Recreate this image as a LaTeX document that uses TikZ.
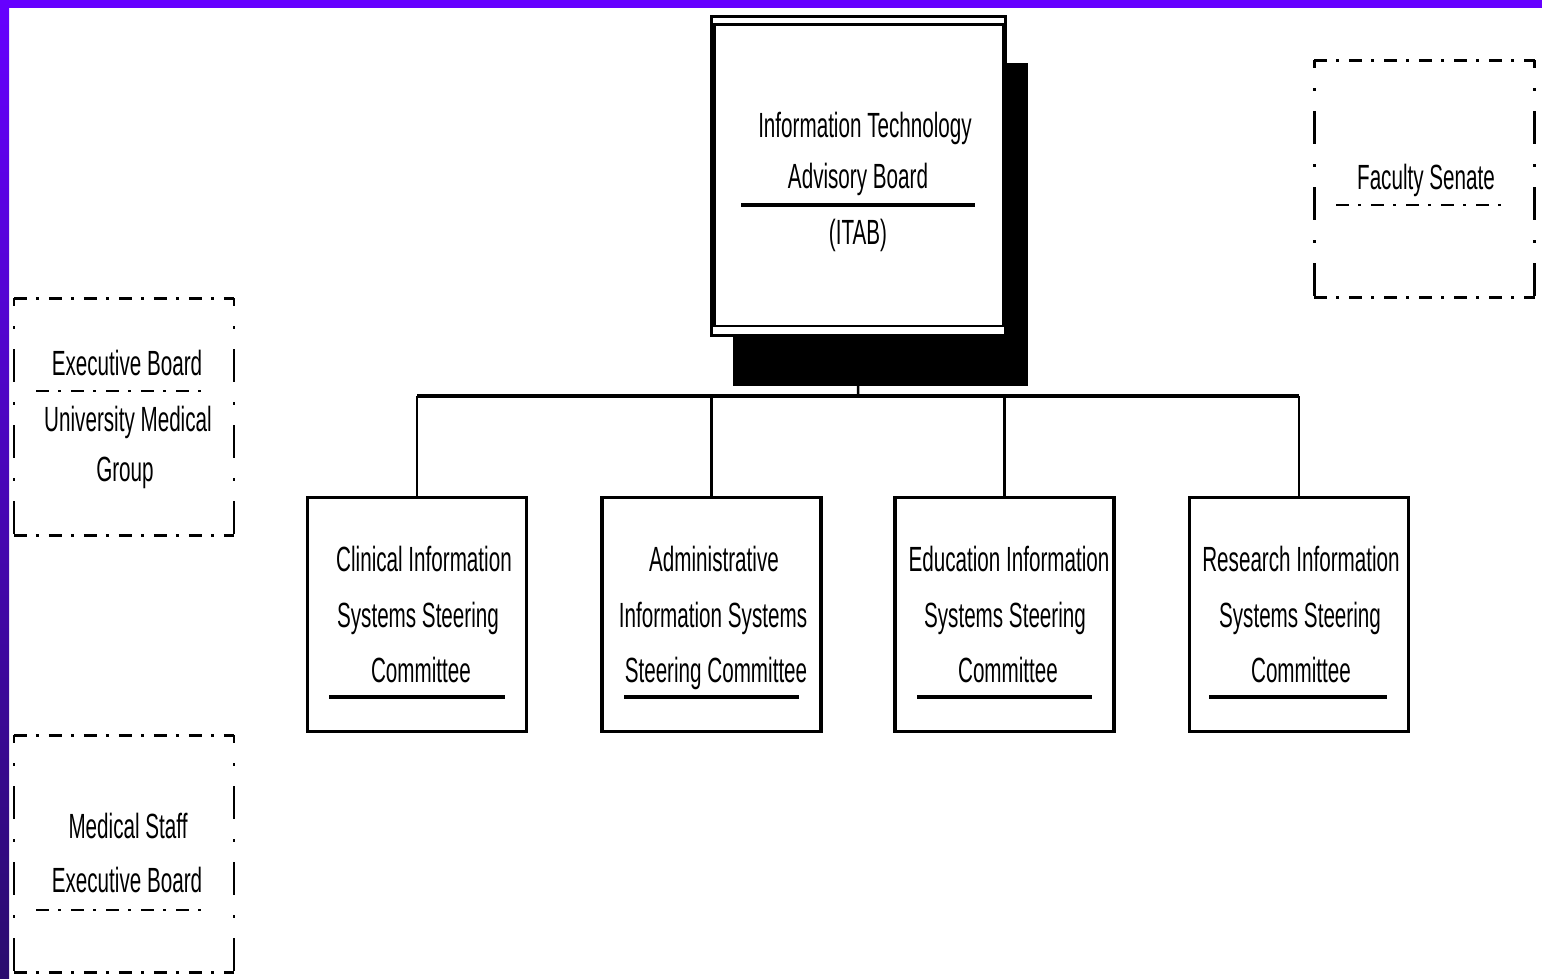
\documentclass[tikz,border=0pt]{standalone}
\usepackage{fontspec}
\newfontfamily\narrowfont[FakeStretch=0.59]{Liberation Sans}
\definecolor{barpurple}{HTML}{6600FF}
\definecolor{bardark}{HTML}{2A0C6E}
\begin{document}
\begin{tikzpicture}[x=1pt,y=-1pt,
  txt/.style={font=\narrowfont\fontsize{35}{42}\selectfont, text height=25pt, text depth=0pt, inner sep=0pt},
  cbox/.style={draw, line width=3.5pt, fill=white, minimum width=219pt, minimum height=234pt, inner sep=0pt},
  dbox/.style={minimum width=220pt, minimum height=237pt, inner sep=0pt},
  hdd/.style={line width=2.5pt, dash pattern=on 13pt off 9pt on 3pt off 10pt},
  vdd/.style={line width=2.5pt, dash pattern=on 33pt off 20pt on 3pt off 20pt, dash phase=25pt},
  rule/.style={line width=3.5pt},
  vline/.style={line width=2.5pt},
  hbar/.style={line width=3.5pt}]
\useasboundingbox (0,0) rectangle (1542,978);
\fill[white] (0,0) rectangle (1542,978);
\fill[barpurple] (0,0) rectangle (1542,8);
\shade[top color=barpurple, bottom color=bardark] (0,0) rectangle (9,978);

% ITAB shadow and box
\fill[black] (733,63) rectangle (1028,386);
\node[draw, line width=3pt, fill=white, minimum width=293.5pt, minimum height=319pt, inner sep=0pt] (itab) at (858.25,176) {};
\draw[line width=2.5pt] ([shift={(4.5,9.5)}]itab.north west) rectangle ([shift={(-3.5,-11)}]itab.south east);
\node[txt] (itab1) at (865,125) {Information Technology};
\node[txt] (itab2) at (858,176) {Advisory Board};
\draw[rule] (741,205) -- (975,205);
\node[txt] (itab3) at (858,232) {(ITAB)};

% child boxes
\node[cbox] (c1) at (417,614.5) {};
\node[cbox] (c2) at (711.5,614.5) {};
\node[cbox] (c3) at (1004.5,614.5) {};
\node[cbox] (c4) at (1299,614.5) {};

\node[txt] (c1a) at (424,559) {Clinical Information};
\node[txt] (c1b) at (418,615) {Systems Steering};
\node[txt] (c1c) at (421,670) {Committee};
\draw[rule] (329,697) -- (505,697);

\node[txt] (c2a) at (714,559) {Administrative};
\node[txt] (c2b) at (713,615) {Information Systems};
\node[txt] (c2c) at (716,670) {Steering Committee};
\draw[rule] (624,697) -- (799,697);

\node[txt] (c3a) at (1009,559) {Education Information};
\node[txt] (c3b) at (1005,615) {Systems Steering};
\node[txt] (c3c) at (1008,670) {Committee};
\draw[rule] (917,697) -- (1092,697);

\node[txt] (c4a) at (1301,559) {Research Information};
\node[txt] (c4b) at (1300,615) {Systems Steering};
\node[txt] (c4c) at (1301,670) {Committee};
\draw[rule] (1209,697) -- (1387,697);

% connectors
\coordinate (bus) at (858,396);
\draw[vline] (itab.south) -- (bus);
\draw[hbar] (c1.north |- bus) -- (c4.north |- bus);
\draw[vline] (c1.north |- bus) -- (c1.north);
\draw[vline] (c2.north |- bus) -- (c2.north);
\draw[vline] (c3.north |- bus) -- (c3.north);
\draw[vline] (c4.north |- bus) -- (c4.north);

% Faculty Senate
\node[dbox] (fs) at (1424.5,179) {};
\draw[hdd] (fs.north west) -- (fs.north east);
\draw[hdd] (fs.south west) -- (fs.south east);
\draw[vdd] (fs.north west) -- (fs.south west);
\draw[vdd] (fs.north east) -- (fs.south east);
\node[txt] (fst) at (1426,177) {Faculty Senate};
\draw[hdd] (1336,205) -- (1505,205);

% Executive Board University Medical Group
\node[dbox] (eb) at (124,417) {};
\draw[hdd] (eb.north west) -- (eb.north east);
\draw[hdd] (eb.south west) -- (eb.south east);
\draw[vdd] (eb.north west) -- (eb.south west);
\draw[vdd] (eb.north east) -- (eb.south east);
\node[txt] (eb1) at (127,363) {Executive Board};
\draw[hdd] (36,391) -- (205,391);
\node[txt] (eb2) at (128,419) {University Medical};
\node[txt] (eb3) at (125,469) {Group};

% Medical Staff Executive Board
\node[dbox] (ms) at (124,854) {};
\draw[hdd] (ms.north west) -- (ms.north east);
\draw[hdd] (ms.south west) -- (ms.south east);
\draw[vdd] (ms.north west) -- (ms.south west);
\draw[vdd] (ms.north east) -- (ms.south east);
\node[txt] (ms1) at (128,826) {Medical Staff};
\node[txt] (ms2) at (127,880) {Executive Board};
\draw[hdd] (36,910) -- (205,910);
\end{tikzpicture}
\end{document}
